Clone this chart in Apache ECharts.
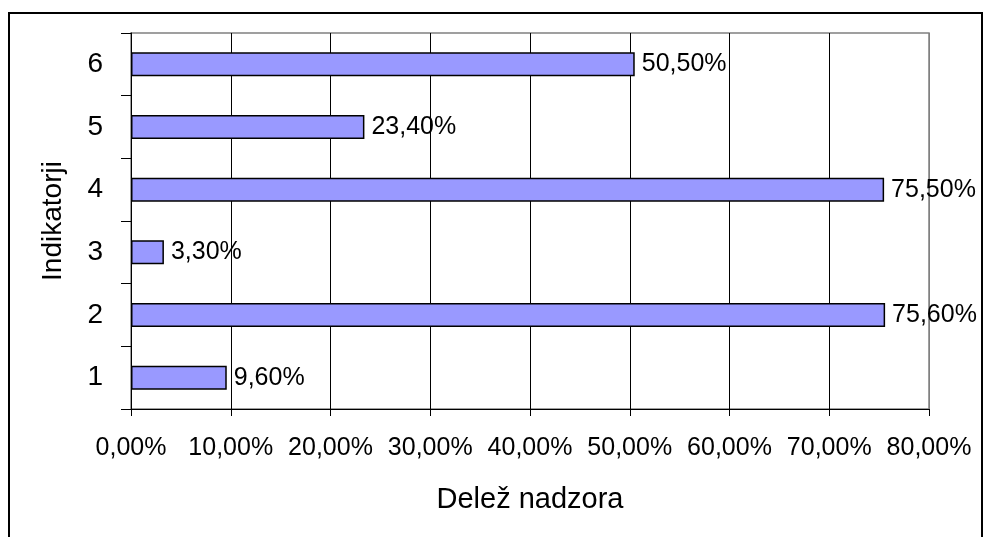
<!DOCTYPE html>
<html><head><meta charset="utf-8">
<script src="https://cdn.jsdelivr.net/npm/echarts@6/dist/echarts.min.js"></script>
<style>html,body{margin:0;padding:0;background:#fff}#c{width:984px;height:537px}</style>
</head><body><div id="c"></div>
<script>
const categories = ['1','2','3','4','5','6'];
const values = [9.6, 75.6, 3.3, 75.5, 23.4, 50.5];
const xTicks = [0,10,20,30,40,50,60,70,80];
const xTitle = 'Delež nadzora';
const yTitle = 'Indikatorji';

const fmt = v => Number(v).toFixed(2).replace('.', ',') + '%';
const chart = echarts.init(document.getElementById('c'));
const font = 'Liberation Sans, Arial, sans-serif';
chart.setOption({
  animation: false,
  graphic: [{type:'rect', shape:{x:9, y:13, width:973, height:600}, style:{fill:'none', stroke:'#000', lineWidth:2}, z:100}],
  grid: {left:131, right:55, top:33, bottom:128, show:true, borderColor:'#808080', borderWidth:1.5, backgroundColor:'#fff'},
  xAxis: {
    type:'value', min:xTicks[0], max:xTicks[xTicks.length-1], interval:10,
    name:xTitle, nameLocation:'middle', nameGap:76,
    nameTextStyle:{fontFamily:font, fontSize:29, color:'#000'},
    axisLine:{show:true, lineStyle:{color:'#000', width:1}},
    axisTick:{show:true, length:7, lineStyle:{color:'#000'}},
    axisLabel:{margin:27, fontFamily:font, fontSize:25, color:'#000', formatter:fmt},
    splitLine:{show:true, lineStyle:{color:['#000','#000','#000','#000','#000','#000','#000','#000','#808080'], width:1}}
  },
  yAxis: {
    type:'category', data:categories,
    name:yTitle, nameLocation:'middle', nameGap:64, nameRotate:90,
    nameTextStyle:{fontFamily:font, fontSize:28, color:'#000'},
    axisLine:{show:true, lineStyle:{color:'#000', width:1}},
    axisTick:{show:true, length:10, lineStyle:{color:'#000'}},
    axisLabel:{margin:28, fontFamily:font, fontSize:28, color:'#000'},
    splitLine:{show:false}
  },
  series: [{
    type:'bar', data:values, barWidth:24,
    itemStyle:{color:'#9999FF', borderColor:'#000', borderWidth:1.5},
    label:{show:true, position:'right', distance:7, fontFamily:font, fontSize:25, color:'#000', formatter:p=>fmt(p.value)}
  }]
});
</script></body></html>
